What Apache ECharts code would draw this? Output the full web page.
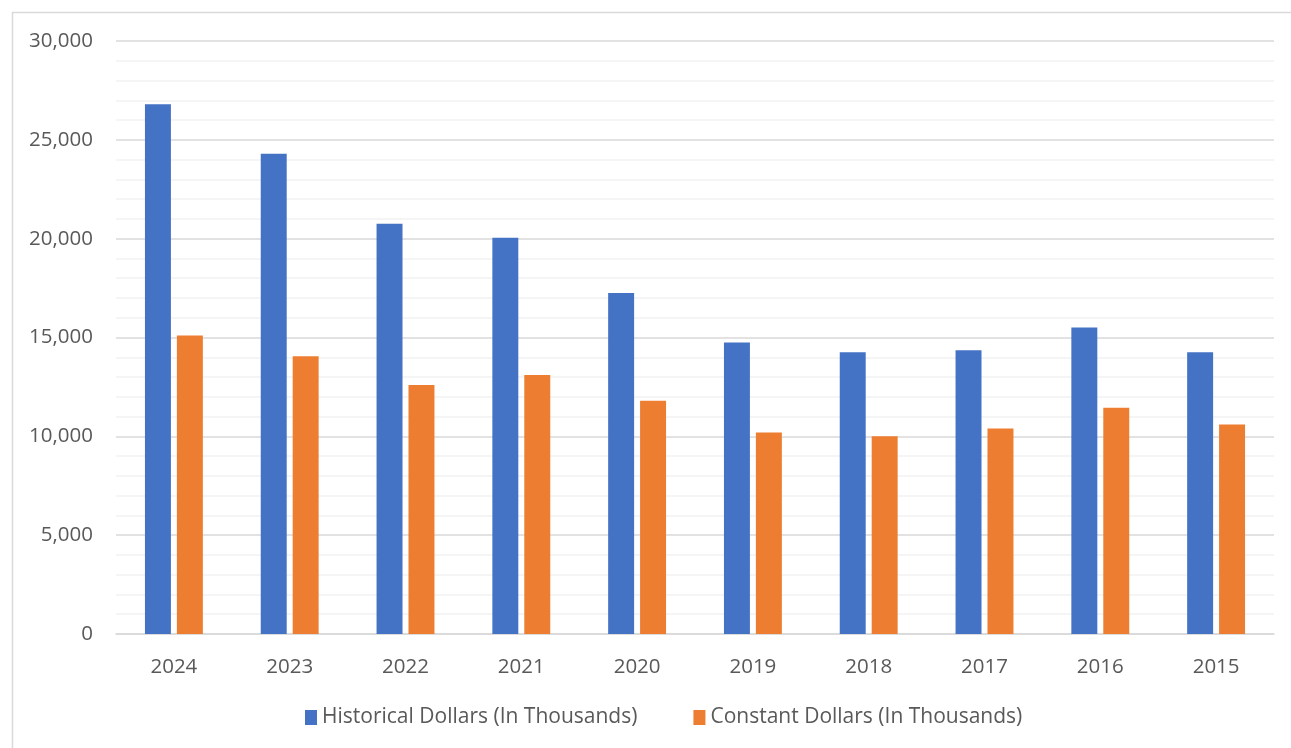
<!DOCTYPE html>
<html>
<head>
<meta charset="utf-8">
<script src="https://cdn.jsdelivr.net/npm/echarts@6/dist/echarts.min.js"></script>
<style>
html,body{margin:0;padding:0;background:#fff;}
#chart{width:1291px;height:748px;}
</style>
</head>
<body>
<div id="chart"></div>
<script>
const categories = ['2024','2023','2022','2021','2020','2019','2018','2017','2016','2015'];
const historical = [26800, 24300, 20750, 20050, 17250, 14750, 14250, 14350, 15500, 14250];
const constant = [15100, 14050, 12600, 13100, 11800, 10200, 10000, 10400, 11450, 10600];
const seriesNames = ['Historical Dollars (In Thousands)', 'Constant Dollars (In Thousands)'];
const yTicks = [0, 5000, 10000, 15000, 20000, 25000, 30000];

const FONT = 'Open Sans';
const chart = echarts.init(document.getElementById('chart'), null, {renderer: 'canvas'});
chart.setOption({
  animation: false,
  backgroundColor: '#ffffff',
  graphic: [{
    type: 'rect', left: 10, top: 10, silent: true, z: -10,
    shape: {width: 1300, height: 760},
    style: {fill: 'none', stroke: '#d9d9d9', lineWidth: 1.5}
  }],
  grid: {left: 116, right: 17, top: 41, bottom: 114, containLabel: false},
  legend: {
    data: seriesNames,
    bottom: 15,
    left: 300,
    itemWidth: 12,
    itemHeight: 15,
    itemGap: 56,
    icon: 'rect',
    textStyle: {color: '#595959', fontSize: 21, fontFamily: FONT}
  },
  xAxis: {
    type: 'category',
    data: categories,
    axisLine: {lineStyle: {color: '#d9d9d9', width: 1.5}},
    axisTick: {show: false},
    axisLabel: {color: '#595959', fontSize: 20.5, fontFamily: FONT, margin: 23}
  },
  yAxis: {
    type: 'value',
    min: yTicks[0],
    max: yTicks[yTicks.length - 1],
    interval: 5000,
    axisLine: {show: false},
    axisTick: {show: false},
    axisLabel: {
      color: '#595959', fontSize: 20.5, fontFamily: FONT, margin: 23,
      formatter: v => v.toLocaleString('en-US')
    },
    splitLine: {lineStyle: {color: '#d9d9d9', width: 1.5}},
    minorTick: {show: false, splitNumber: 5},
    minorSplitLine: {show: true, lineStyle: {color: '#f2f2f2', width: 1.5}}
  },
  series: [
    {
      name: seriesNames[0], type: 'bar', data: historical,
      itemStyle: {color: '#4472c4'},
      barGap: '23%', barCategoryGap: '50%'
    },
    {
      name: seriesNames[1], type: 'bar', data: constant,
      itemStyle: {color: '#ed7d31'},
      barGap: '23%', barCategoryGap: '50%'
    }
  ]
});
</script>
</body>
</html>
